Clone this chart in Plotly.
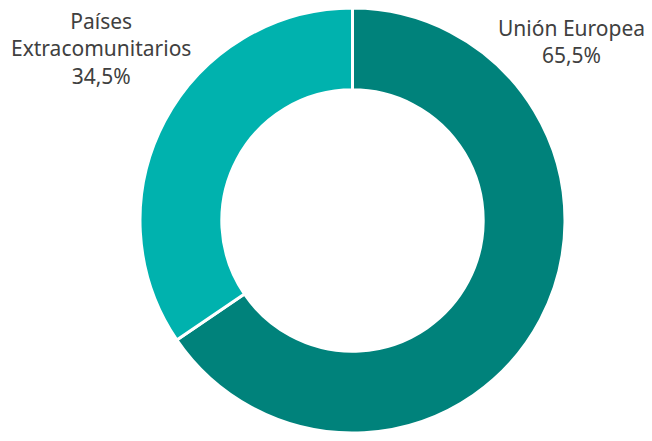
import plotly.graph_objects as go

labels = ["Unión Europea", "Países Extracomunitarios"]
values = [65.5, 34.5]
label_texts = ["Unión Europea<br>65,5%", "Países<br>Extracomunitarios<br>34,5%"]
colors = ["#00827B", "#00B2AE"]

# page body has 8px margin; keep figure inside the 652x441 window (no scrollbars)
W, H = 636, 425
off = 8
cx, cy, R = 352.5 - off, 212.5, 212.5

fig = go.Figure(go.Pie(
    labels=labels, values=values, sort=False, direction="clockwise", rotation=0,
    hole=0.615, textinfo="none", hoverinfo="label+percent",
    marker=dict(colors=colors, line=dict(color="white", width=3)),
    domain=dict(x=[(cx - R) / W, (cx + R) / W], y=[max(0, (H - cy - R) / H), min(1, (H - cy + R) / H)]),
    showlegend=False,
))

font = dict(family="Noto Sans, sans-serif", size=21, color="#404040")
fig.add_annotation(x=(571 - off) / W, y=1 - (41.5 - off) / H, xref="paper", yref="paper", text=label_texts[0],
                   showarrow=False, font=font, align="center", xanchor="center", yanchor="middle")
fig.add_annotation(x=(101 - off) / W, y=1 - (48 - off) / H, xref="paper", yref="paper", text=label_texts[1],
                   showarrow=False, font=font, align="center", xanchor="center", yanchor="middle")

fig.update_layout(width=W, height=H, margin=dict(l=0, r=0, t=0, b=0),
                  paper_bgcolor="white", plot_bgcolor="white")
fig.write_html("out.html")
